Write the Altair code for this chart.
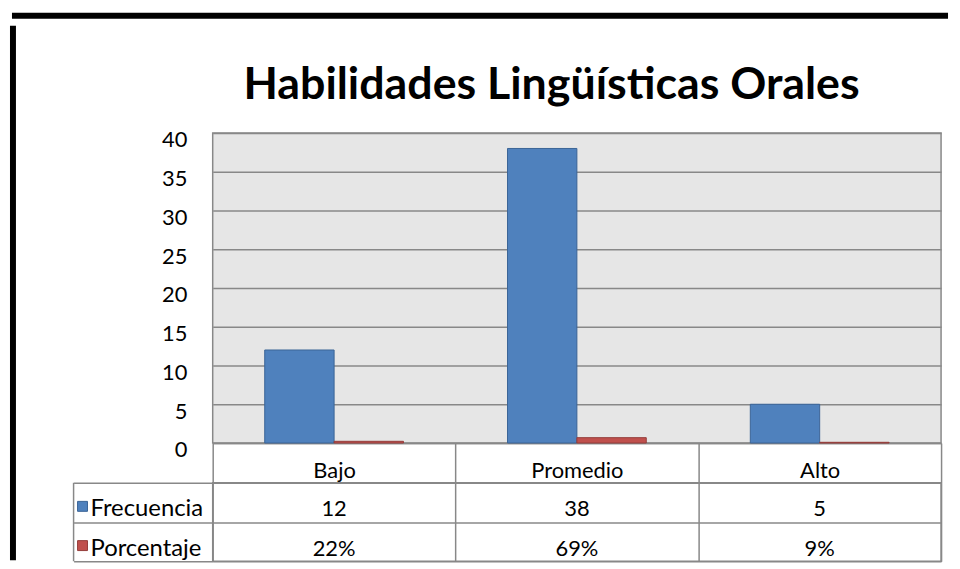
import altair as alt
import pandas as pd

# ---- data ----
categorias = ["Bajo", "Promedio", "Alto"]
series = ["Frecuencia", "Porcentaje"]
frecuencia = [12, 38, 5]
porcentaje = [0.22, 0.69, 0.09]
y_ticks = [0, 5, 10, 15, 20, 25, 30, 35, 40]
titulo = "Habilidades Lingüísticas Orales"

colores = ["#4f81bd", "#c0504d"]
bordes = ["#3a6496", "#943c3a"]
GRID = "#888888"
FONT = "Lato"
FS = 22

rows = []
for i, c in enumerate(categorias):
    rows.append({"categoria": c, "serie": series[0], "valor": frecuencia[i],
                 "texto": str(frecuencia[i])})
    rows.append({"categoria": c, "serie": series[1], "valor": porcentaje[i],
                 "texto": f"{round(porcentaje[i] * 100)}%"})
df = pd.DataFrame(rows)
df_series = pd.DataFrame({"serie": series})
one = pd.DataFrame({"a": [0]})
df_title = pd.DataFrame({"t": [titulo]})

W, H = 733, 312
TH = 79

color_scale = alt.Scale(domain=series, range=colores)
stroke_scale = alt.Scale(domain=series, range=bordes)
band = alt.Scale(paddingInner=0, paddingOuter=0)

# ---- top panel: bars ----
bars = alt.Chart(df).mark_bar(strokeWidth=1).encode(
    x=alt.X("categoria:N", sort=categorias, scale=band,
            axis=alt.Axis(title=None, labelFont=FONT, labelFontSize=FS, labelColor="black",
                          labelAngle=0, labelBaseline="alphabetic", labelPadding=-5,
                          tickBand="extent", tickSize=40, tickColor=GRID, tickWidth=1.5,
                          domainColor=GRID, domainWidth=1.5, grid=False)),
    xOffset=alt.XOffset("serie:N", sort=series,
                        scale=alt.Scale(paddingInner=0, paddingOuter=0.75)),
    y=alt.Y("valor:Q", scale=alt.Scale(domain=[0, 40], nice=False),
            axis=alt.Axis(title=None, values=y_ticks, domain=False, ticks=False,
                          labelFont=FONT, labelFontSize=FS, labelColor="black",
                          labelPadding=26, labelOffset=7,
                          gridColor=GRID, gridWidth=1.5)),
    color=alt.Color("serie:N", scale=color_scale, legend=None),
    stroke=alt.Stroke("serie:N", scale=stroke_scale, legend=None),
)

title_mark = alt.Chart(df_title).mark_text(
    font=FONT, fontSize=45, fontWeight="bold", color="black",
    align="center", baseline="alphabetic").encode(
    x=alt.value(341), y=alt.value(-34), text="t:N")

frame_top = alt.Chart(one).mark_rule(color="black", strokeWidth=6).encode(
    x=alt.value(-202), x2=alt.value(740), y=alt.value(-118))
frame_left = alt.Chart(one).mark_rule(color="black", strokeWidth=6).encode(
    x=alt.value(-201), y=alt.value(-108), y2=alt.value(430))

top = alt.layer(bars, title_mark, frame_top, frame_left).properties(
    width=W, height=H,
    view=alt.ViewBackground(fill="#e6e6e6", stroke=GRID, strokeWidth=1.5),
)

# ---- bottom panel: data table ----
y_tab = alt.Y("serie:N", sort=series, scale=band,
              axis=alt.Axis(title=None, labels=False, ticks=True, tickSize=140,
                            tickBand="extent", tickColor=GRID, tickWidth=1.5,
                            domain=False, grid=True, gridColor=GRID, gridWidth=1.5))
x_tab = alt.X("categoria:N", sort=categorias, scale=band,
              axis=alt.Axis(title=None, labels=False, ticks=False, domain=False,
                            grid=True, tickBand="extent", gridColor=GRID, gridWidth=1.5))

cells = alt.Chart(df).mark_text(font=FONT, fontSize=FS, baseline="alphabetic",
                                dy=14, color="black").encode(
    x=x_tab, y=y_tab, text="texto:N")

row_labels = alt.Chart(df_series).mark_text(font=FONT, fontSize=24, baseline="alphabetic",
                                            dy=14, align="left", color="black").encode(
    x=alt.value(-123), y=y_tab, text="serie:N")

keys = alt.Chart(df_series).mark_point(shape="square", filled=True, size=100,
                                       strokeWidth=1, opacity=1, yOffset=4).encode(
    x=alt.value(-131), y=y_tab,
    color=alt.Color("serie:N", scale=color_scale, legend=None),
    stroke=alt.Stroke("serie:N", scale=stroke_scale, legend=None))

left_border = alt.Chart(one).mark_rule(color=GRID, strokeWidth=1.5).encode(
    x=alt.value(-140), y=alt.value(0), y2=alt.value(TH))

table = alt.layer(cells, row_labels, keys, left_border).properties(
    width=W, height=TH,
    view=alt.ViewBackground(fill="white", stroke=GRID, strokeWidth=1.5),
)

chart = alt.vconcat(top, table, spacing=40, bounds="flush").properties(
    padding={"left": 0, "top": 2, "right": 0, "bottom": 0},
    background="white",
).configure(font=FONT)

chart.save("out.html", embed_options={"renderer": "svg", "actions": False})
